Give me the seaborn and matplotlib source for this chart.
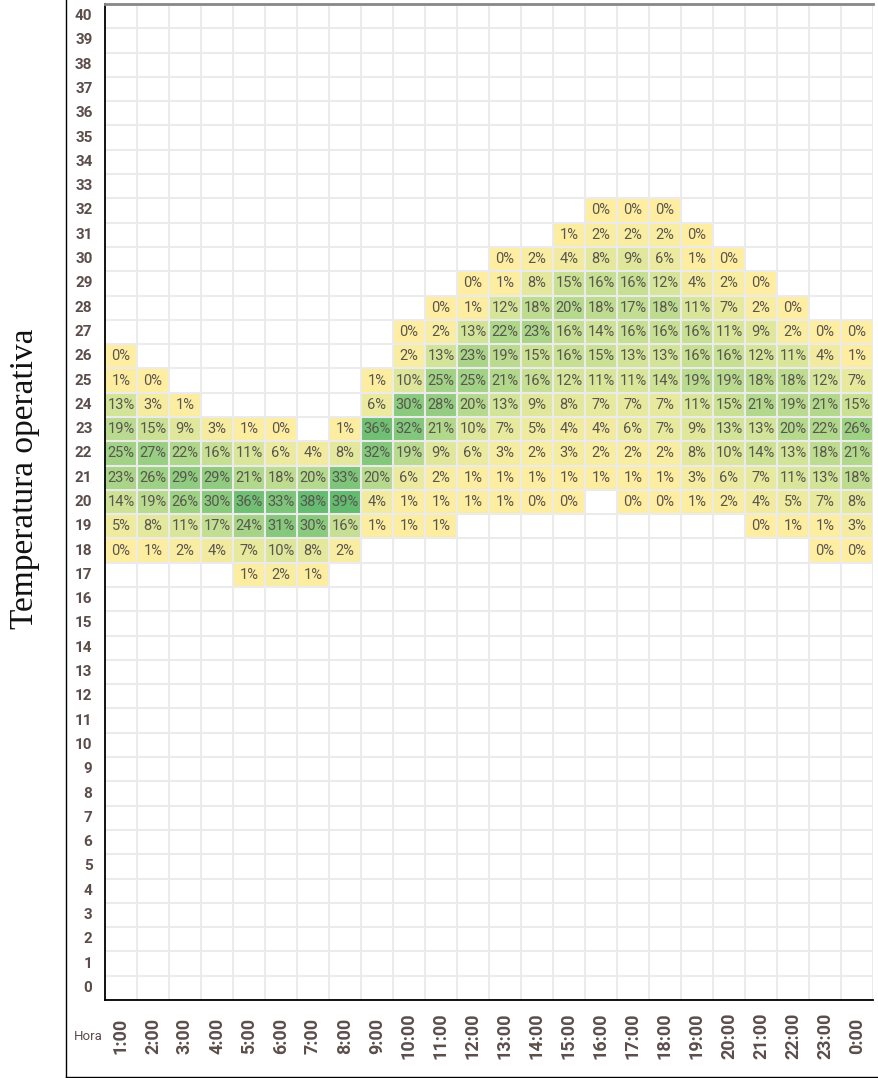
import numpy as np
import pandas as pd
import matplotlib
matplotlib.use("Agg")
import matplotlib.pyplot as plt
from matplotlib.colors import LinearSegmentedColormap
from matplotlib.lines import Line2D
import seaborn as sns

hours = ["1:00", "2:00", "3:00", "4:00", "5:00", "6:00", "7:00", "8:00", "9:00", "10:00",
         "11:00", "12:00", "13:00", "14:00", "15:00", "16:00", "17:00", "18:00", "19:00",
         "20:00", "21:00", "22:00", "23:00", "0:00"]
temps = list(range(40, -1, -1))

N = None
# percentage of hours per temperature (rows) and hour of day (columns)
t32 = [N, N, N, N, N, N, N, N, N, N, N, N, N, N, N, 0, 0, 0, N, N, N, N, N, N]
t31 = [N, N, N, N, N, N, N, N, N, N, N, N, N, N, 1, 2, 2, 2, 0, N, N, N, N, N]
t30 = [N, N, N, N, N, N, N, N, N, N, N, N, 0, 2, 4, 8, 9, 6, 1, 0, N, N, N, N]
t29 = [N, N, N, N, N, N, N, N, N, N, N, 0, 1, 8, 15, 16, 16, 12, 4, 2, 0, N, N, N]
t28 = [N, N, N, N, N, N, N, N, N, N, 0, 1, 12, 18, 20, 18, 17, 18, 11, 7, 2, 0, N, N]
t27 = [N, N, N, N, N, N, N, N, N, 0, 2, 13, 22, 23, 16, 14, 16, 16, 16, 11, 9, 2, 0, 0]
t26 = [0, N, N, N, N, N, N, N, N, 2, 13, 23, 19, 15, 16, 15, 13, 13, 16, 16, 12, 11, 4, 1]
t25 = [1, 0, N, N, N, N, N, N, 1, 10, 25, 25, 21, 16, 12, 11, 11, 14, 19, 19, 18, 18, 12, 7]
t24 = [13, 3, 1, N, N, N, N, N, 6, 30, 28, 20, 13, 9, 8, 7, 7, 7, 11, 15, 21, 19, 21, 15]
t23 = [19, 15, 9, 3, 1, 0, N, 1, 36, 32, 21, 10, 7, 5, 4, 4, 6, 7, 9, 13, 13, 20, 22, 26]
t22 = [25, 27, 22, 16, 11, 6, 4, 8, 32, 19, 9, 6, 3, 2, 3, 2, 2, 2, 8, 10, 14, 13, 18, 21]
t21 = [23, 26, 29, 29, 21, 18, 20, 33, 20, 6, 2, 1, 1, 1, 1, 1, 1, 1, 3, 6, 7, 11, 13, 18]
t20 = [14, 19, 26, 30, 36, 33, 38, 39, 4, 1, 1, 1, 1, 0, 0, N, 0, 0, 1, 2, 4, 5, 7, 8]
t19 = [5, 8, 11, 17, 24, 31, 30, 16, 1, 1, 1, N, N, N, N, N, N, N, N, N, 0, 1, 1, 3]
t18 = [0, 1, 2, 4, 7, 10, 8, 2, N, N, N, N, N, N, N, N, N, N, N, N, N, N, 0, 0]
t17 = [N, N, N, N, 1, 2, 1, N, N, N, N, N, N, N, N, N, N, N, N, N, N, N, N, N]

rows = {32: t32, 31: t31, 30: t30, 29: t29, 28: t28, 27: t27, 26: t26, 25: t25,
        24: t24, 23: t23, 22: t22, 21: t21, 20: t20, 19: t19, 18: t18, 17: t17}

data = pd.DataFrame(np.nan, index=temps, columns=hours)
for t, vals in rows.items():
    data.loc[t] = [np.nan if v is None else v for v in vals]

annot = data.map(lambda v: "" if pd.isna(v) else f"{int(v)}%")

cmap = LinearSegmentedColormap.from_list(
    "yg", [(0.0, "#FFEEA2"), (0.3, "#D6E599"), (0.6, "#A6D487"), (1.0, "#5EB96E")])

fam = ["Liberation Sans Narrow", "Roboto", "DejaVu Sans"]
tick_color = "#5B4D4A"

fig = plt.figure(figsize=(8.79, 10.78), dpi=100)
ax = fig.add_axes([105 / 879, 1 - 1000 / 1078, 768 / 879, 996 / 1078])

sns.heatmap(data, ax=ax, cmap=cmap, vmin=0, vmax=40, mask=data.isna(),
            annot=annot.values, fmt="", cbar=False,
            annot_kws={"family": fam, "fontsize": 10.5, "color": "#5A5550"})

# grid lines over all cells
for i in range(len(temps) + 1):
    ax.axhline(i, color="#EBEBEB", lw=1.5, zorder=2.5)
for j in range(len(hours) + 1):
    ax.axvline(j, color="#EBEBEB", lw=1.5, zorder=2.5)

ax.set_xlabel("")
ax.set_ylabel("")
ax.set_yticks(np.arange(len(temps)) + 0.5)
ax.set_yticklabels([str(t) for t in temps], rotation=0, family=fam,
                   fontweight="bold", fontsize=11, color=tick_color)
ax.set_xticks(np.arange(len(hours)) + 0.5)
ax.set_xticklabels(hours, rotation=90, family=fam, fontweight="bold",
                   fontsize=13, color=tick_color, va="center")
ax.tick_params(axis="x", length=0, pad=26)
ax.tick_params(axis="y", length=0, pad=9)

for side in ["left", "bottom"]:
    ax.spines[side].set_visible(True)
    ax.spines[side].set_color("black")
    ax.spines[side].set_linewidth(1.3)
ax.spines["top"].set_visible(True)
ax.spines["top"].set_color("#888888")
ax.spines["top"].set_linewidth(2)
ax.spines["right"].set_visible(False)

fig.text(103 / 879, 1 - 1037 / 1078, "Hora", ha="right", va="center",
         family=fam, fontsize=9.5, color=tick_color)
fig.text(25 / 879, 1 - 479 / 1078, "Temperatura operativa", rotation=90,
         ha="center", va="center", family=["Liberation Serif", "DejaVu Serif"],
         fontsize=24, color="#111111")

# outer frame (left and bottom)
fig.add_artist(Line2D([66 / 879, 66 / 879], [1 - 1077 / 1078, 1.0],
                      transform=fig.transFigure, color="black", lw=1))
fig.add_artist(Line2D([66 / 879, 1.0], [1 - 1077 / 1078, 1 - 1077 / 1078],
                      transform=fig.transFigure, color="black", lw=1))

fig.savefig("out.png", dpi=100)
